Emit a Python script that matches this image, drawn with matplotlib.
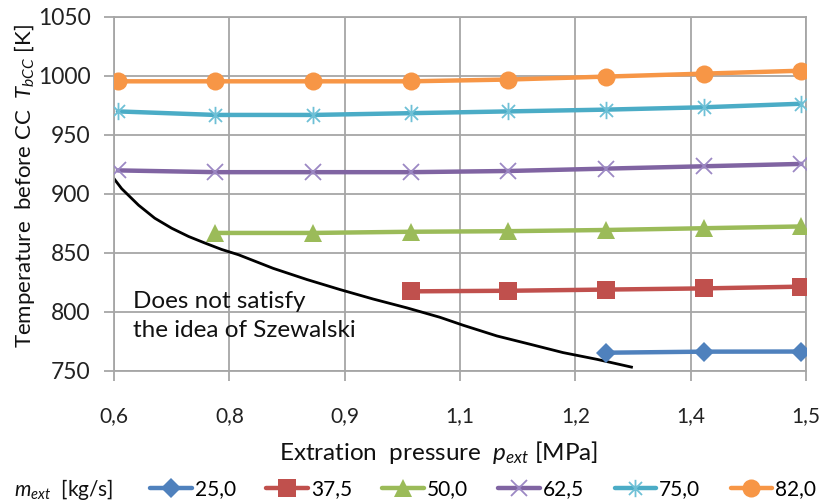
import matplotlib
matplotlib.use("Agg")
import matplotlib.pyplot as plt
from matplotlib.path import Path

plt.rcParams['font.family'] = ['Lato', 'DejaVu Sans']
plt.rcParams['mathtext.fontset'] = 'custom'
plt.rcParams['mathtext.it'] = 'Lato:italic'
plt.rcParams['mathtext.rm'] = 'Lato'

NARROW = ['Liberation Sans Narrow', 'Lato']

# ---- data ----
pressure = [0.605, 0.732, 0.859, 0.986, 1.113, 1.240, 1.367, 1.494]
labels = ["25,0", "37,5", "50,0", "62,5", "75,0", "82,0"]
T_25 = [None, None, None, None, None, 765.5, 766.4, 766.5]
T_375 = [None, None, None, 817.5, 818.0, 819.0, 820.0, 821.5]
T_50 = [None, 867.0, 867.0, 868.0, 868.5, 869.5, 871.0, 872.5]
T_625 = [920.0, 918.5, 918.5, 918.5, 919.5, 921.5, 923.5, 925.5]
T_75 = [970.0, 967.0, 967.0, 968.5, 970.0, 971.5, 973.5, 976.5]
T_82 = [995.5, 995.5, 995.5, 995.5, 997.0, 999.5, 1002.0, 1004.5]
limit_p = [0.6, 0.61, 0.632, 0.653, 0.675, 0.697, 0.718, 0.74, 0.762, 0.807,
           0.851, 0.894, 0.937, 0.981, 1.024, 1.054, 1.098, 1.141, 1.184, 1.228, 1.273]
limit_T = [913.0, 904.5, 890.5, 879.5, 871.0, 864.0, 858.5, 853.0, 848.5, 837.0,
           827.5, 819.0, 811.0, 803.5, 795.5, 788.8, 779.7, 772.7, 765.6, 759.9, 753.3]
xticks = [0.6, 0.75, 0.9, 1.05, 1.2, 1.35, 1.5]
xticklabels = ["0,6", "0,8", "0,9", "1,1", "1,2", "1,4", "1,5"]
yticks = [750, 800, 850, 900, 950, 1000, 1050]

colors = ["#4F81BD", "#C0504D", "#9BBB59", "#8064A2", "#4BACC6", "#F79646"]
mcolors = ["#4F81BD", "#C0504D", "#9BBB59", "#9C88C4", "#6EC0D6", "#F79646"]
series = [T_25, T_375, T_50, T_625, T_75, T_82]

star = Path([(0, -1), (0, 1), (-0.75, -0.75), (0.75, 0.75), (-0.75, 0.75), (0.75, -0.75)],
            [Path.MOVETO, Path.LINETO, Path.MOVETO, Path.LINETO, Path.MOVETO, Path.LINETO])
markers = ["D", "s", "^", "x", star, "o"]
msizes = [10, 12.5, 12.5, 12, 12.5, 13]

fig = plt.figure(figsize=(8.32, 5.04), dpi=100)
ax = fig.add_axes([114/832, 1-371/504, (806-114)/832, (371-17)/504])

for ys, c, mc, m, ms, lab in zip(series, colors, mcolors, markers, msizes, labels):
    xs = [p for p, y in zip(pressure, ys) if y is not None]
    yv = [y for y in ys if y is not None]
    thin = (m == "x") or (m is star)
    ax.plot(xs, yv, color=c, lw=3.2, marker=m, ms=ms, mfc=mc, mec=mc,
            mew=1.3 if thin else 0, label=lab, solid_capstyle='round', zorder=3)

ax.plot(limit_p, limit_T, color='black', lw=2.0, zorder=2)

ax.set_xlim(0.6, 1.5)
ax.set_ylim(750, 1050)
ax.set_xticks(xticks)
ax.set_xticklabels(xticklabels, family=NARROW, fontsize=15)
ax.set_yticks(yticks)
ax.set_yticklabels([str(v) for v in yticks], fontsize=16.5)
ax.grid(True, color='#A6A6A6', lw=1.3)
ax.set_axisbelow(True)
for s in ax.spines.values():
    s.set_color('#A6A6A6')
    s.set_linewidth(1.3)
ax.tick_params(axis='both', color='#A6A6A6', width=1.3, length=7)
ax.tick_params(axis='x', pad=18, labelcolor='#222222')
ax.tick_params(axis='y', pad=10, labelcolor='#222222')

ax.text(0.625, 796.5, "Does not satisfy\nthe idea of Szewalski", fontsize=17.5,
        linespacing=1.5, va='center', ha='left', color='#111111')

fig.text(25/832, 1-186/504, r"Temperature  before CC  $T_{bCC}$ [K]", rotation=90,
         ha='center', va='center', fontsize=16, color='#111111')
fig.text(439/832, 1-452/504, r"Extration  pressure  $p_{ext}$ [MPa]",
         ha='center', va='center', fontsize=17.5, color='#111111', family=NARROW)
fig.text(14/832, 1-489/504, r"$m_{ext}$  [kg/s]", ha='left', va='center',
         fontsize=15, color='#111111', family=NARROW)

h, l = ax.get_legend_handles_labels()
leg = fig.legend(h, l, loc='center left', bbox_to_anchor=(150/832, 1-489/504), ncol=6,
                 frameon=False, handlelength=2.0, handletextpad=0.15,
                 columnspacing=1.45, borderaxespad=0, borderpad=0,
                 prop={'family': NARROW, 'size': 15})

fig.savefig("out.png", dpi=100)
